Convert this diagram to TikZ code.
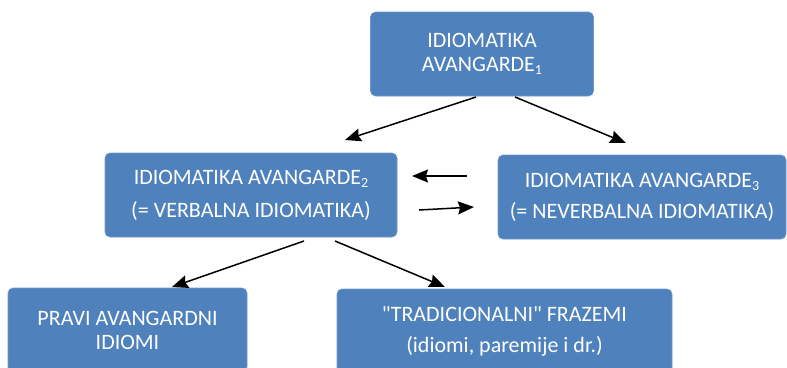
\documentclass[tikz,border=0pt]{standalone}
\usepackage{fontspec}
\setmainfont{Carlito}
\usetikzlibrary{arrows.meta}
\definecolor{boxblue}{HTML}{4F81BD}
\definecolor{boxedge}{HTML}{6F99CC}
\newcommand{\mysub}[1]{\raisebox{-0.3ex}{\fontsize{14}{14}\selectfont #1}}
\tikzset{
  box/.style={rectangle, rounded corners=5pt, fill=boxblue, draw=boxedge, line width=0.6pt,
    text=white, align=center, inner sep=0pt,
    font=\fontsize{22}{24}\selectfont},
  conn/.style={line width=1.5pt, -{Stealth[length=16pt,width=13pt,inset=2pt]}}
}
\begin{document}
\begin{tikzpicture}[x=1pt,y=-1pt]
\useasboundingbox (0,0) rectangle (787,367);
\node[box, minimum width=223pt, minimum height=84pt] (top) at (482,54)
  {IDIOMATIKA\\AVANGARDE\mysub{1}};
\node[box, minimum width=292pt, minimum height=84pt] (verb) at (251,195)
  {IDIOMATIKA AVANGARDE\mysub{2}\\[9pt](= VERBALNA IDIOMATIKA)};
\node[box, minimum width=288pt, minimum height=84pt] (never) at (642,197)
  {IDIOMATIKA AVANGARDE\mysub{3}\\[7pt](= NEVERBALNA IDIOMATIKA)};
\node[box, minimum width=239pt, minimum height=84pt] (pravi) at (127.5,330)
  {PRAVI AVANGARDNI\\IDIOMI};
\node[box, minimum width=335pt, minimum height=84pt] (trad) at (504.5,331)
  {\textquotedbl TRADICIONALNI\textquotedbl{} FRAZEMI\\[7pt](idiomi, paremije i dr.)};
% connector end points
\coordinate (a1s) at (476,97);  \coordinate (a1e) at (345,140);
\coordinate (a2s) at (515,97);  \coordinate (a2e) at (626,143);
\coordinate (a3s) at (467,176); \coordinate (a3e) at (412,176);
\coordinate (a4s) at (419,210); \coordinate (a4e) at (474,207);
\coordinate (a5s) at (304,241); \coordinate (a5e) at (172,287);
\coordinate (a6s) at (335,241); \coordinate (a6e) at (445,287);
\draw[conn] (a1s) -- (a1e);
\draw[conn] (a2s) -- (a2e);
\draw[conn] (a3s) -- (a3e);
\draw[conn] (a4s) -- (a4e);
\draw[conn] (a5s) -- (a5e);
\draw[conn] (a6s) -- (a6e);
\end{tikzpicture}
\end{document}
